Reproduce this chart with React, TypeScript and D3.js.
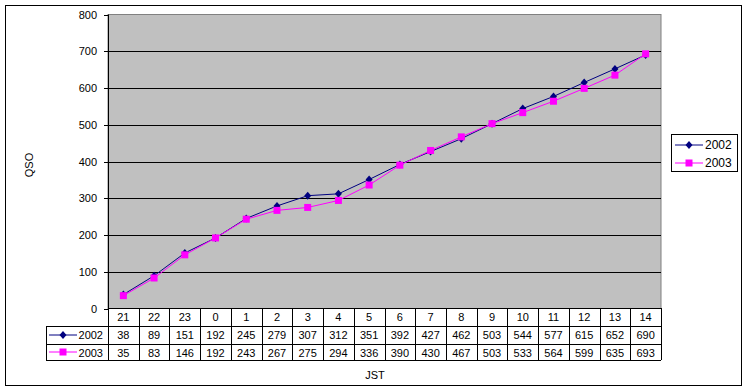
import React from "react";
import * as d3 from "d3";

const hours = ["21", "22", "23", "0", "1", "2", "3", "4", "5", "6", "7", "8", "9", "10", "11", "12", "13", "14"];
const s2002 = [38, 89, 151, 192, 245, 279, 307, 312, 351, 392, 427, 462, 503, 544, 577, 615, 652, 690];
const s2003 = [35, 83, 146, 192, 243, 267, 275, 294, 336, 390, 430, 467, 503, 533, 564, 599, 635, 693];
const yTicks = [0, 100, 200, 300, 400, 500, 600, 700, 800];
const seriesNames = ["2002", "2003"];
const seriesColors = ["#000080", "#FF00FF"];

export default function App() {
  const W = 748, H = 391;
  const left = 108, right = 661, top = 14.5, bottom = 308.5;
  const x = d3.scaleBand<string>().domain(hours).range([left, right]);
  const y = d3.scaleLinear().domain([0, 800]).range([bottom, top]);
  const font = "'Liberation Sans', Arial, sans-serif";
  const rowY = [308, 326, 344, 360];
  const keyLeft = 46;
  const series = [s2002, s2003];
  const line = d3.line<number>().x((_, i) => x(hours[i])! + x.bandwidth() / 2).y(d => y(d));

  const marker = (k: number, cx: number, cy: number, key: string) =>
    k === 0 ? (
      <path key={key} d={`M${cx},${cy - 4}L${cx + 3.5},${cy}L${cx},${cy + 4}L${cx - 3.5},${cy}Z`} fill={seriesColors[0]} />
    ) : (
      <rect key={key} x={cx - 3.5} y={cy - 3.5} width={7} height={7} fill={seriesColors[1]} />
    );

  return (
    <svg width={W} height={H} style={{ position: "absolute", left: 0, top: 0, background: "#fff" }} fontFamily={font}>
      <rect x={5.5} y={5.5} width={736} height={380} fill="#fff" stroke="#000" strokeWidth={1} />
      <rect x={left} y={top} width={right - left} height={bottom - top} fill="#C0C0C0" stroke="#808080" strokeWidth={1} />
      {yTicks.slice(1, -1).map(t => (
        <line key={t} x1={left} x2={right} y1={Math.round(y(t)) + 0.5} y2={Math.round(y(t)) + 0.5} stroke="#000" />
      ))}
      <line x1={left + 0.5} x2={left + 0.5} y1={top} y2={bottom} stroke="#000" />
      {yTicks.map(t => (
        <g key={t}>
          <line x1={left - 4} x2={left} y1={Math.round(y(t)) + 0.5} y2={Math.round(y(t)) + 0.5} stroke="#000" />
          <text x={97} y={y(t) + 4} fontSize={11} textAnchor="end">{t}</text>
        </g>
      ))}
      <text transform={`translate(33,165) rotate(-90)`} fontSize={11} textAnchor="middle">QSO</text>
      {series.map((s, k) => (
        <g key={k}>
          <path d={line(s)!} fill="none" stroke={seriesColors[k]} strokeWidth={1} />
          {s.map((v, i) => marker(k, x(hours[i])! + x.bandwidth() / 2, y(v), `${k}-${i}`))}
        </g>
      ))}
      {/* data table */}
      <g stroke="#000" strokeWidth={1}>
        <line x1={left} x2={right} y1={rowY[0] + 0.5} y2={rowY[0] + 0.5} />
        {[1, 2, 3].map(r => (
          <line key={r} x1={keyLeft} x2={right} y1={rowY[r] + 0.5} y2={rowY[r] + 0.5} />
        ))}
        <line x1={keyLeft + 0.5} x2={keyLeft + 0.5} y1={rowY[1]} y2={rowY[3]} />
        {hours.map((h, i) => (
          <line key={h + i} x1={Math.round(x(h)!) + 0.5} x2={Math.round(x(h)!) + 0.5} y1={rowY[0]} y2={rowY[3]} />
        ))}
        <line x1={right + 0.5} x2={right + 0.5} y1={rowY[0]} y2={rowY[3]} />
      </g>
      {hours.map((h, i) => (
        <text key={h + "t" + i} x={x(h)! + x.bandwidth() / 2} y={rowY[0] + 13} fontSize={11} textAnchor="middle">{h}</text>
      ))}
      {series.map((s, k) => (
        <g key={"row" + k}>
          {s.map((v, i) => (
            <text key={i} x={x(hours[i])! + x.bandwidth() / 2} y={rowY[k + 1] + 13} fontSize={11} textAnchor="middle">{v}</text>
          ))}
          <line x1={49} x2={77} y1={(rowY[k + 1] + rowY[k + 2]) / 2} y2={(rowY[k + 1] + rowY[k + 2]) / 2} stroke={seriesColors[k]} />
          {marker(k, 63, (rowY[k + 1] + rowY[k + 2]) / 2, "km" + k)}
          <text x={103} y={rowY[k + 1] + 13} fontSize={11} textAnchor="end">{seriesNames[k]}</text>
        </g>
      ))}
      <text x={375} y={379} fontSize={11} textAnchor="middle">JST</text>
      {/* legend */}
      <rect x={671.5} y={134.5} width={66} height={37} fill="#fff" stroke="#000" />
      {series.map((_, k) => (
        <g key={"lg" + k}>
          <line x1={675} x2={703} y1={145 + k * 18} y2={145 + k * 18} stroke={seriesColors[k]} />
          {marker(k, 689, 145 + k * 18, "lm" + k)}
          <text x={705} y={149 + k * 18} fontSize={12}>{seriesNames[k]}</text>
        </g>
      ))}
    </svg>
  );
}
